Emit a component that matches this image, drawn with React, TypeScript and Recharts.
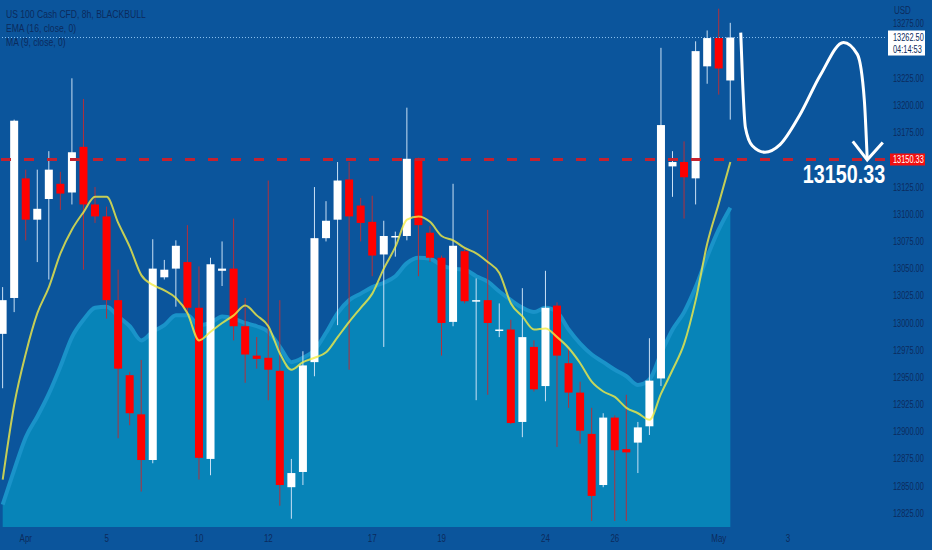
import React from "react";
import { ComposedChart, Bar, Line, Area, XAxis, YAxis, ReferenceLine } from "recharts";

// 8h candles, US 100 Cash CFD
const OPEN = [
  12990, 13023, 13133, 13095, 13114, 13128, 13120, 13162, 13109, 13098,
  13021, 12952, 12916, 12874, 13042, 13050, 13056, 13014, 12875, 13048,
  13050, 12997, 12970, 12968, 12956, 12849, 12863, 12964, 13078, 13095,
  13132, 13108, 13093, 13063, 13079, 13080, 13151, 13083, 13060, 13001,
  13066, 13020, 13021, 12993, 12994, 12909, 12978, 12942, 13016, 12963,
  12936, 12898, 12851, 12913, 12884, 12890, 12905, 12949, 13144, 13148,
  13133, 13236, 13262, 13223,
];
const HIGH = [
  13033, 13187, 13141, 13141, 13158, 13139, 13225, 13206, 13125, 13107,
  13049, 12955, 12966, 13077, 13058, 13076, 13090, 13052, 13060, 13075,
  13096, 13023, 12987, 13131, 13021, 12875, 12974, 13125, 13112, 13148,
  13148, 13115, 13117, 13094, 13084, 13198, 13152, 13089, 13062, 13128,
  13069, 13041, 13104, 13018, 13003, 13032, 12984, 13048, 13019, 12977,
  12946, 12922, 12917, 12915, 12934, 12909, 12986, 13253, 13158, 13167,
  13259, 13269, 13289, 13276,
];
const LOW = [
  12940, 13010, 13076, 13056, 13040, 13104, 13109, 13049, 13092, 13004,
  12894, 12906, 12845, 12871, 13040, 13015, 13008, 12856, 12860, 13034,
  12984, 12945, 12958, 12929, 12832, 12820, 12851, 12951, 13075, 12998,
  12957, 13075, 13043, 12978, 13061, 13076, 13043, 13056, 12970, 12997,
  13018, 12929, 12934, 12987, 12907, 12895, 12937, 12928, 12886, 12922,
  12889, 12818, 12849, 12818, 12818, 12862, 12897, 12942, 13116, 13096,
  13109, 13220, 13210, 13187,
];
const CLOSE = [
  13021, 13186, 13095, 13105, 13141, 13119, 13157, 13109, 13098, 13021,
  12958, 12917, 12874, 13050, 13049, 13071, 13014, 12876, 13054, 13050,
  12997, 12971, 12967, 12957, 12851, 12862, 12961, 13078, 13094, 13131,
  13098, 13092, 13062, 13080, 13080, 13151, 13090, 13060, 13000, 13071,
  13020, 13021, 13000, 12994, 12908, 12987, 12939, 13014, 12970, 12936,
  12901, 12841, 12913, 12883, 12881, 12904, 12947, 13182, 13148, 13134,
  13250, 13262, 13234, 13262.5,
];
// MA (9, close, 0) – yellow line
const MA9 = [
  12856, 12925, 12972, 13009, 13033, 13064, 13086, 13102, 13116, 13116,
  13092, 13070, 13044, 13035, 13030, 13023, 13009, 12984, 12992, 13000,
  13007, 13016, 13007, 12997, 12972, 12957, 12964, 12968, 12973, 12987,
  13001, 13014, 13027, 13050, 13070, 13095, 13098, 13093, 13080, 13076,
  13069, 13064, 13056, 13046, 13018, 13006, 12994, 12995, 12987, 12977,
  12963, 12946, 12937, 12932, 12922, 12917, 12911, 12935, 12957, 12981,
  13021, 13073, 13110, 13148,
];
// EMA (16, close, 0) – teal area
const EMA16 = [
  12833, 12865, 12895, 12914, 12935, 12960, 12987, 13003, 13014, 13015,
  13006, 12997, 12984, 12992, 12998, 13007, 13007, 12998, 13000, 13006,
  13004, 13000, 12997, 12992, 12978, 12964, 12968, 12975, 12991, 13009,
  13021, 13027, 13033, 13037, 13043, 13055, 13060, 13059, 13053, 13050,
  13049, 13043, 13038, 13029, 13021, 13014, 13010, 13014, 13010, 12994,
  12981, 12971, 12964, 12957, 12951, 12943, 12948, 12972, 12994, 13010,
  13033, 13061, 13086, 13106,
];

const DAY_TICKS = [2, 9, 17, 23, 32, 38, 47, 53, 62, 68];
const DAY_LABELS = ["Apr", "5", "10", "12", "17", "19", "24", "26", "May", "3"];
// 13150 and 13250 sit under the price tags, so they are left out
const PRICE_TICKS = [
  12825, 12850, 12875, 12900, 12925, 12950, 12975, 13000, 13025, 13050,
  13075, 13100, 13125, 13175, 13200, 13225, 13275,
];
const LAST_PRICE = 13262.5;
const LAST_TIME = "04:14:53";
const TARGET = 13150.33;

// hand-drawn forecast arrow, in (bar index, price)
const ARROW_PATH = [
  { i: 63.9, p: 13267 }, { i: 64.05, p: 13225 }, { i: 64.3, p: 13180 },
  { i: 64.9, p: 13163 }, { i: 66.0, p: 13157 }, { i: 67.3, p: 13164 },
  { i: 69.0, p: 13191 }, { i: 70.8, p: 13228 }, { i: 72.8, p: 13258 },
  { i: 74.0, p: 13247 }, { i: 74.6, p: 13205 }, { i: 74.85, p: 13151 },
];
const ARROW_HEAD = [
  { i: 73.6, p: 13167 }, { i: 74.85, p: 13150 }, { i: 76.2, p: 13166 },
];

const BG = "#0b559c";
const INK = "#0b2b5c";
const FONT = "'Liberation Sans', Arial, sans-serif";

const rows = OPEN.map((o, i) => ({
  i,
  open: o,
  high: HIGH[i],
  low: LOW[i],
  close: CLOSE[i],
  range: [LOW[i], HIGH[i]],
  ma: MA9[i],
  ema: EMA16[i],
}));

// TradingView uses a narrow face; squeeze Liberation Sans horizontally
function Narrow({ x, y, sx = 0.74, size = 10, fill = INK, anchor = "start", dy = "0.355em", weight = 400, children }: any) {
  return (
    <text
      transform={`translate(${x} ${y}) scale(${sx} 1)`}
      dy={dy}
      fontSize={size}
      fontWeight={weight}
      fill={fill}
      textAnchor={anchor}
      fontFamily={FONT}
    >
      {children}
    </text>
  );
}

function PriceTick(props: any) {
  const { x, y, payload } = props;
  return <Narrow x={x} y={y}>{Number(payload.value).toFixed(2)}</Narrow>;
}

function DayTick(props: any) {
  const { x, y, payload } = props;
  return (
    <Narrow x={x} y={y} anchor="middle" dy="0.71em" sx={0.8}>
      {DAY_LABELS[DAY_TICKS.indexOf(payload.value)] ?? ""}
    </Narrow>
  );
}

function Candle(props: any) {
  const { x, y, width, height, payload } = props;
  if (!payload) return null;
  const top = Math.min(y, y + height);
  const span = Math.abs(height);
  const { open, high, low, close } = payload;
  const px = (v: number) => top + ((high - v) / (high - low || 1)) * span;
  const up = close >= open;
  const cx = x + width / 2;
  const bTop = px(Math.max(open, close));
  const bH = Math.max(px(Math.min(open, close)) - bTop, 1.5);
  return (
    <g>
      <line x1={cx} x2={cx} y1={top} y2={top + span} stroke={up ? "#c9e0f5" : "#b3303c"} strokeWidth={1} />
      <rect x={cx - 4} y={bTop} width={8} height={bH} fill={up ? "#ffffff" : "#ff0000"} />
    </g>
  );
}

function TargetTag(props: any) {
  const vb = props.viewBox || {};
  const right = vb.x + vb.width;
  const y = vb.y;
  return (
    <g>
      <rect x={right + 5} y={y - 6} width={35} height={12} fill="#f21010" />
      <Narrow x={right + 8} y={y} fill="#ffffff">{TARGET.toFixed(2)}</Narrow>
      <Narrow x={right - 41} y={y + 15} fill="#ffffff" size={25} sx={0.79} weight={600} anchor="middle">
        {TARGET.toFixed(2)}
      </Narrow>
    </g>
  );
}

function LastTag(props: any) {
  const vb = props.viewBox || {};
  const right = vb.x + vb.width;
  const y = vb.y;
  return (
    <g>
      <rect x={right + 3} y={y - 7} width={37} height={25} fill="#ffffff" />
      <Narrow x={right + 8} y={y}>{LAST_PRICE.toFixed(2)}</Narrow>
      <Narrow x={right + 8} y={y + 12}>{LAST_TIME}</Narrow>
    </g>
  );
}

export default function App() {
  return (
    <div style={{ position: "absolute", left: 0, top: 0, width: 932, height: 550, background: BG, overflow: "hidden", fontFamily: FONT }}>
      <ComposedChart width={932} height={550} data={rows} margin={{ top: 0, right: 0, bottom: 0, left: 0 }}>
        <XAxis
          dataKey="i"
          type="number"
          domain={[-0.234, 76.39]}
          allowDataOverflow
          ticks={DAY_TICKS}
          height={23}
          axisLine={false}
          tickLine={false}
          tick={<DayTick />}
        />
        <YAxis
          orientation="right"
          width={47}
          domain={[12812.4, 13297]}
          allowDataOverflow
          ticks={PRICE_TICKS}
          axisLine={false}
          tickLine={false}
          tick={<PriceTick />}
        />
        <Area dataKey="ema" type="monotone" stroke="#1a93c9" strokeWidth={4} fill="#0784b8" fillOpacity={1} activeDot={false} isAnimationActive={false} />
        <Line dataKey="ma" type="monotone" stroke="#f4ec45" strokeOpacity={0.8} strokeWidth={2} dot={false} activeDot={false} isAnimationActive={false} />
        <Bar dataKey="range" barSize={8} shape={<Candle />} activeBar={false} isAnimationActive={false} />
        <ReferenceLine y={LAST_PRICE} stroke="#8cc2ef" strokeDasharray="1 2" label={<LastTag />} />
        <ReferenceLine y={TARGET} stroke="#c4222f" strokeWidth={3} strokeDasharray="10 13" label={<TargetTag />} />
        <Line data={ARROW_PATH} dataKey="p" type="monotone" stroke="#ffffff" strokeWidth={3} dot={false} activeDot={false} isAnimationActive={false} />
        <Line data={ARROW_HEAD} dataKey="p" type="linear" stroke="#ffffff" strokeWidth={3} dot={false} activeDot={false} isAnimationActive={false} />
      </ComposedChart>
      <div style={{ position: "absolute", left: 6, top: 7, fontSize: 11, lineHeight: "14px", color: INK, transform: "scaleX(0.78)", transformOrigin: "0 0", whiteSpace: "nowrap" }}>
        <div>US 100 Cash CFD, 8h, BLACKBULL</div>
        <div>EMA (16, close, 0)</div>
        <div>MA (9, close, 0)</div>
      </div>
      <div style={{ position: "absolute", left: 894, top: 5, fontSize: 10, color: INK, transform: "scaleX(0.8)", transformOrigin: "0 0" }}>USD</div>
    </div>
  );
}
